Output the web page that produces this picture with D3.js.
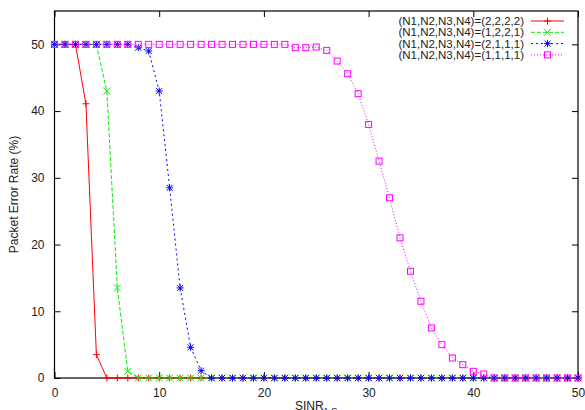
<!DOCTYPE html>
<html>
<head>
<meta charset="utf-8">
<script src="https://cdn.jsdelivr.net/npm/d3@7"></script>
<style>
  body { margin: 0; background: #fff; }
  text { font-family: "Liberation Sans", Arial, sans-serif; fill: #222; }
</style>
</head>
<body>
<div id="chart-container"></div>
<script>
// SINR values (x)
const sinr = [0,1,2,3,4,5,6,7,8,9,10,11,12,13,14,15,16,17,18,19,20,21,22,23,24,25,
  26,27,28,29,30,31,32,33,34,35,36,37,38,39,40,41,42,43,44,45,46,47,48,49,50];

// Packet error rate (%) per configuration
const per2222 = [50,50,50,41.1,3.5,0,0,0,0,0,0,0,0,0,0,0,0,0,0,0,0,0,0,0,0,0,
  0,0,0,0,0,0,0,0,0,0,0,0,0,0,0,0,0,0,0,0,0,0,0,0,0];
const per1221 = [50,50,50,50,50,43,13.5,1,0,0,0,0,0,0,0,0,0,0,0,0,0,0,0,0,0,0,
  0,0,0,0,0,0,0,0,0,0,0,0,0,0,0,0,0,0,0,0,0,0,0,0,0];
const per2111 = [50,50,50,50,50,50,50,50,49.5,49,43,28.5,13.5,4.6,1.1,0,0,0,0,0,0,0,0,0,0,0,
  0,0,0,0,0,0,0,0,0,0,0,0,0,0,0,0,0,0,0,0,0,0,0,0,0];
const per1111 = [50,50,50,50,50,50,50,50,50,50,50,50,50,50,50,50,50,50,50,50,50,50,50,49.5,49.5,49.6,
  49.1,47.5,45.6,42.6,38,32.5,27,21,16,11.5,7.5,5,3,2,1,0.6,0,0,0,0,0,0,0,0,0];

const labels = ["(N1,N2,N3,N4)=(2,2,2,2)", "(N1,N2,N3,N4)=(1,2,2,1)",
  "(N1,N2,N3,N4)=(2,1,1,1)", "(N1,N2,N3,N4)=(1,1,1,1)"];
const xTicks = [0, 10, 20, 30, 40, 50];
const yTicks = [0, 10, 20, 30, 40, 50];

const series = [
  { name: labels[0], values: per2222, color: "#ff0000", dash: null, marker: "plus" },
  { name: labels[1], values: per1221, color: "#00ee00", dash: "4,2", marker: "cross" },
  { name: labels[2], values: per2111, color: "#0000ff", dash: "2,3", marker: "star" },
  { name: labels[3], values: per1111, color: "#ff00ff", dash: "1,2", marker: "square" }
];

const W = 585, H = 410;
const margin = { top: 11, right: 7, bottom: 32, left: 54.5 };
const width = W - margin.left - margin.right;
const height = H - margin.top - margin.bottom;

const x = d3.scaleLinear().domain([0, 50]).range([0, width]);
const y = d3.scaleLinear().domain([0, 55]).range([height, 0]);

const root = d3.select("#chart-container")
  .append("svg")
  .attr("width", W)
  .attr("height", H);

const svg = root.append("g")
  .attr("transform", `translate(${margin.left},${margin.top})`);

// Axes with inward ticks (mirrored on all sides)
const tickLen = 6;
svg.append("g")
  .attr("transform", `translate(0,${height})`)
  .call(d3.axisBottom(x).tickValues(xTicks).tickSizeInner(-tickLen).tickSizeOuter(0).tickPadding(10))
  .call(g => g.select(".domain").remove());
svg.append("g")
  .call(d3.axisTop(x).tickValues(xTicks).tickSizeInner(-tickLen).tickSizeOuter(0).tickFormat(""))
  .call(g => g.select(".domain").remove());
svg.append("g")
  .call(d3.axisLeft(y).tickValues(yTicks).tickSizeInner(-tickLen).tickSizeOuter(0).tickPadding(10))
  .call(g => g.select(".domain").remove());
svg.append("g")
  .attr("transform", `translate(${width},0)`)
  .call(d3.axisRight(y).tickValues(yTicks).tickSizeInner(-tickLen).tickSizeOuter(0).tickFormat(""))
  .call(g => g.select(".domain").remove());

svg.selectAll(".tick text")
  .style("font-size", "12px")
  .style("font-family", "Liberation Sans, Arial, sans-serif")
  .attr("fill", "#222");
svg.selectAll(".tick line").attr("stroke", "#000");

// Frame
svg.append("rect")
  .attr("width", width)
  .attr("height", height)
  .attr("fill", "none")
  .attr("stroke", "#000")
  .attr("stroke-width", 1.2);

// Markers
function drawMarker(g, type, cx, cy, color) {
  const r = 3.5;
  if (type === "plus" || type === "star") {
    g.append("path").attr("d", `M${cx - r},${cy}H${cx + r}M${cx},${cy - r}V${cy + r}`)
      .attr("stroke", color).attr("stroke-width", 1).attr("fill", "none");
  }
  if (type === "cross" || type === "star") {
    const s = type === "star" ? 3 : 3.5;
    g.append("path").attr("d", `M${cx - s},${cy - s}L${cx + s},${cy + s}M${cx - s},${cy + s}L${cx + s},${cy - s}`)
      .attr("stroke", color).attr("stroke-width", 1).attr("fill", "none");
  }
  if (type === "square") {
    g.append("rect").attr("x", cx - 3).attr("y", cy - 3).attr("width", 6).attr("height", 6)
      .attr("stroke", color).attr("stroke-width", 1).attr("fill", "none");
  }
}

const line = d3.line()
  .x((d, i) => x(sinr[i]))
  .y(d => y(d));

series.forEach(s => {
  const g = svg.append("g");
  g.append("path")
    .datum(s.values)
    .attr("fill", "none")
    .attr("stroke", s.color)
    .attr("stroke-width", 1)
    .attr("stroke-dasharray", s.dash)
    .attr("d", line);
  s.values.forEach((v, i) => drawMarker(g, s.marker, x(sinr[i]), y(v), s.color));
});

// Legend
const legend = root.append("g");
series.forEach((s, i) => {
  const ly = 21 + i * 11.3;
  legend.append("text")
    .attr("x", 524)
    .attr("y", ly + 4)
    .attr("text-anchor", "end")
    .style("font-size", "11.5px")
    .text(s.name);
  legend.append("line")
    .attr("x1", 531).attr("x2", 564)
    .attr("y1", ly).attr("y2", ly)
    .attr("stroke", s.color)
    .attr("stroke-dasharray", s.dash);
  drawMarker(legend, s.marker, 547.5, ly, s.color);
});

// Axis labels
root.append("text")
  .attr("transform", `translate(18,${margin.top + height / 2}) rotate(-90)`)
  .attr("text-anchor", "middle")
  .style("font-size", "12px")
  .text("Packet Error Rate (%)");

const xl = root.append("text")
  .attr("x", margin.left + width / 2)
  .attr("y", 410)
  .attr("text-anchor", "middle")
  .style("font-size", "12px");
xl.append("tspan").text("SINR");
xl.append("tspan").attr("dy", 4).style("font-size", "9px").text("1,C");
</script>
</body>
</html>
